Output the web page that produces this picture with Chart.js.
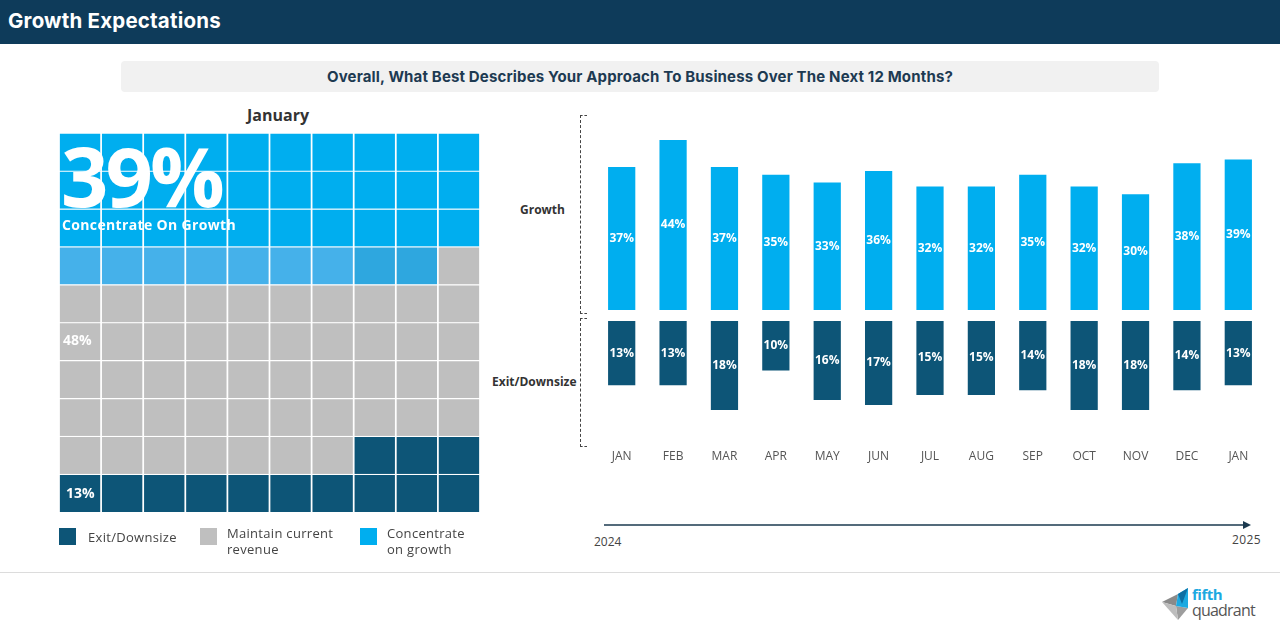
<!DOCTYPE html>
<html>
<head>
<meta charset="utf-8">
<script src="https://cdn.jsdelivr.net/npm/chart.js@4"></script>
<style>
body { margin:0; width:1280px; height:642px; position:relative; overflow:hidden; background:#fff; font-family:"Open Sans", sans-serif; }
.abs { position:absolute; }
#header { left:0; top:0; width:1280px; height:44px; background:#0e3b5a; }
#header span { position:absolute; left:8px; top:8px; color:#fff; font:700 20.5px Inter, sans-serif; letter-spacing:0.2px; }
#question { left:121px; top:61px; width:1038px; height:31px; background:#f1f1f1; border-radius:4px; text-align:center; font:700 15px Inter, sans-serif; line-height:31px; letter-spacing:0.15px; color:#1d3a52; }
#month { left:200px; top:104px; width:156px; text-align:center; font-weight:700; font-size:16px; color:#333; }
.wtxt { color:#fff; font-weight:700; }
.leg { font-size:13px; color:#444; line-height:16px; letter-spacing:0.3px; }
.sq { width:17px; height:17px; }
.side { font-weight:700; font-size:12px; color:#333; }
.bracket { border:1px dashed #444; border-right:none; width:6px; }
.yr { font-size:12px; color:#444; }
#footline { left:0; top:572px; width:1280px; height:1px; background:#dcdcdc; }
</style>
</head>
<body>
<div id="header" class="abs"><span>Growth Expectations</span></div>
<div id="question" class="abs">Overall, What Best Describes Your Approach To Business Over The Next 12 Months?</div>
<div id="month" class="abs">January</div>

<div class="abs" style="left:59px;top:133px;width:421px;height:379px;"><canvas id="waffle"></canvas></div>
<div class="abs wtxt" style="left:61px;top:125px;font-size:83px;letter-spacing:-3px;line-height:100px;">39%</div>
<div class="abs wtxt" style="left:62px;top:215px;font-size:14px;letter-spacing:0.35px;">Concentrate On Growth</div>
<div class="abs wtxt" style="left:63px;top:330px;font-size:14px;">48%</div>
<div class="abs wtxt" style="left:66px;top:483px;font-size:14px;">13%</div>

<div class="abs sq" style="left:59px;top:528px;background:#0d5577;"></div>
<div class="abs leg" style="left:88px;top:529px;">Exit/Downsize</div>
<div class="abs sq" style="left:200px;top:528px;background:#bfbfbf;"></div>
<div class="abs leg" style="left:227px;top:525px;">Maintain current<br>revenue</div>
<div class="abs sq" style="left:360px;top:528px;background:#00aeef;"></div>
<div class="abs leg" style="left:387px;top:525px;">Concentrate<br>on growth</div>

<div class="abs side" style="left:520px;top:201px;">Growth</div>
<div class="abs side" style="left:492px;top:373px;">Exit/Downsize</div>
<div class="abs bracket" style="left:580px;top:115px;height:197px;"></div>
<div class="abs bracket" style="left:580px;top:318px;height:127px;"></div>

<div class="abs" style="left:596px;top:120px;width:668px;height:190px;"><canvas id="growthChart"></canvas></div>
<div class="abs" style="left:596px;top:321px;width:668px;height:150px;"><canvas id="exitChart"></canvas></div>

<svg class="abs" style="left:600px;top:518px;" width="660" height="14">
  <line x1="4" y1="7" x2="644" y2="7" stroke="#1b3a4f" stroke-width="1.3"/>
  <polygon points="643,3 651,7 643,11" fill="#1b3a4f"/>
</svg>
<div class="abs yr" style="left:594px;top:533px;">2024</div>
<div class="abs yr" style="left:1232px;top:531px;letter-spacing:0.4px;">2025</div>

<div id="footline" class="abs"></div>
<svg class="abs" style="left:1158px;top:582px;" width="112" height="42">
  <polygon points="4,20 20,12 18,24" fill="#8a8a8a"/>
  <polygon points="18,24 30,26 20,38" fill="#9d9d9d"/>
  <polygon points="4,20 18,24 20,38" fill="#bdbdbd"/>
  <polygon points="20,12 30,6 30,26 18,24" fill="#1ca9e1"/>
  <polygon points="20,12 30,6 24,22" fill="#0e6fa3"/>
  <text x="34" y="18" font-family="Open Sans" font-weight="700" font-size="15" fill="#1ca9e1" letter-spacing="-0.5">fifth</text>
  <text x="34" y="34" font-family="Open Sans" font-size="16" fill="#555" letter-spacing="-0.8">quadrant</text>
</svg>

<script>
// data
const months = ['JAN', 'FEB', 'MAR', 'APR', 'MAY', 'JUN', 'JUL', 'AUG', 'SEP', 'OCT', 'NOV', 'DEC', 'JAN'];
const growth = [37, 44, 37, 35, 33, 36, 32, 32, 35, 32, 30, 38, 39];
const exitDownsize = [13, 13, 18, 10, 16, 17, 15, 15, 14, 18, 18, 14, 13];

const waffleCategories = ['Concentrate on growth', 'Maintain current revenue', 'Exit/Downsize'];
const waffleValues = [39, 48, 13];

const BLUE = '#00aeef';
const NAVY = '#0d5577';
const GRAY = '#bfbfbf';

const barLabels = {
    id: 'barLabels',
    afterDatasetsDraw(chart) {
        const ctx = chart.ctx;
        const ds = chart.data.datasets[0];
        ctx.save();
        ctx.fillStyle = '#fff';
        ctx.font = 'bold 12px "Open Sans"';
        ctx.textAlign = 'center';
        ctx.textBaseline = 'middle';
        chart.getDatasetMeta(0).data.forEach((bar, i) => {
            ctx.fillText(ds.data[i] + '%', bar.x, (bar.y + bar.base) / 2);
        });
        ctx.restore();
    }
};

Chart.defaults.font.family = '"Open Sans", sans-serif';

function barChart(id, values, color, max, reverse, showMonths) {
    return new Chart(document.getElementById(id), {
        type: 'bar',
        data: {
            labels: months,
            datasets: [{ data: values, backgroundColor: color, barPercentage: 0.53, categoryPercentage: 1 }]
        },
        options: {
            responsive: true,
            maintainAspectRatio: false,
            animation: false,
            layout: { padding: 0 },
            plugins: { legend: { display: false }, tooltip: { enabled: false } },
            scales: {
                x: {
                    display: showMonths,
                    grid: { display: false, drawTicks: false },
                    border: { display: false },
                    ticks: { color: '#555', font: { size: 12 }, padding: 3 },
                    afterFit(axis) { axis.height = showMonths ? 25 : 0; }
                },
                y: { display: false, min: 0, max: max, reverse: reverse }
            }
        },
        plugins: [barLabels]
    });
}

barChart('growthChart', growth, BLUE, 49.2, false, false);
barChart('exitChart', exitDownsize, NAVY, 25.3, true, true);

// waffle: 10x10 cells filled row by row from the top left
const cellColors = [];
waffleValues.forEach((v, k) => {
    for (let i = 0; i < v; i++) cellColors.push([BLUE, GRAY, NAVY][k]);
});
// the partly filled growth row is a lighter shade
const fullRows = Math.floor(waffleValues[0] / 10) * 10;
for (let i = fullRows; i < waffleValues[0]; i++) {
    cellColors[i] = i >= waffleValues[0] - 2 ? '#2ea7df' : '#45b1ea';
}

const cols = ['1', '2', '3', '4', '5', '6', '7', '8', '9', '10'];
const waffleSets = [];
for (let r = 9; r >= 0; r--) {
    waffleSets.push({
        data: cols.map(() => 1),
        backgroundColor: cols.map((c, j) => cellColors[r * 10 + j]),
        borderColor: '#fff',
        borderWidth: 1.2,
        barPercentage: 1,
        categoryPercentage: 1
    });
}

new Chart(document.getElementById('waffle'), {
    type: 'bar',
    data: { labels: cols, datasets: waffleSets },
    options: {
        responsive: true,
        maintainAspectRatio: false,
        animation: false,
        layout: { padding: 0 },
        plugins: { legend: { display: false }, tooltip: { enabled: false } },
        scales: {
            x: { display: false, stacked: true },
            y: { display: false, stacked: true, min: 0, max: 10 }
        }
    }
});
</script>
</body>
</html>
